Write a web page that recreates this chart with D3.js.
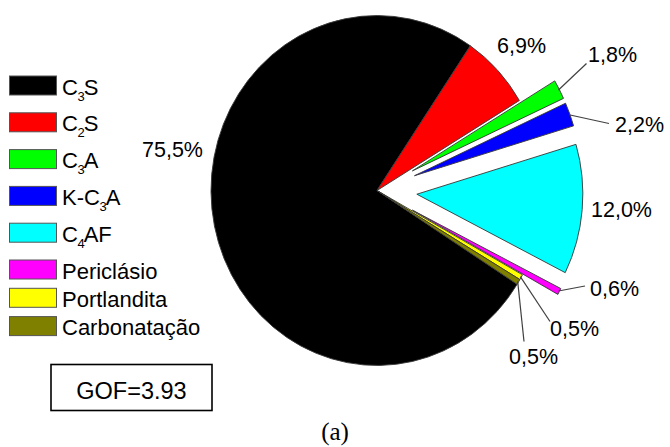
<!DOCTYPE html>
<html><head><meta charset="utf-8">
<script src="https://cdn.jsdelivr.net/npm/d3@7"></script>
<style>body{margin:0;background:#fff}svg{display:block}</style>
</head><body>
<svg id="c" width="670" height="447"></svg>
<script>
// data
const categories = ["C3S","C2S","C3A","K-C3A","C4AF","Periclásio","Portlandita","Carbonatação"];
const values = [75.5, 6.9, 1.8, 2.2, 12.0, 0.6, 0.5, 0.5];
const colors = ["#000000","#ff0000","#00ff00","#0000ff","#00ffff","#ff00ff","#ffff00","#808000"];
const exploded = [0,0,1,1,1,1,0,0];
const gofText = "GOF=3.93";
const caption = "(a)";

// layout
const W = 670, H = 447;
const cx = 377, cy = 190.5, R = 166, sy = 1.054, explodeDist = 40;
const startDeg = 122.4;
// label anchors (text left x, baseline y) and leader end points (null = no leader)
const labelPos = [[142,157],[497,53],[588,62],[615,132],[591,216.5],[590,296],[550,336],[509,364]];
const leaderEnd = [null,null,[586.5,63.5],[609,123.5],null,[585,286],[550,321.5],[524,341.5]];

const svg = d3.select("#c");
const pie = d3.pie().sort(null).value(d=>d)
  .startAngle(startDeg*Math.PI/180).endAngle(startDeg*Math.PI/180 + 2*Math.PI);
const arcs = pie(values);
const arc = d3.arc().innerRadius(0).outerRadius(R);

const g = svg.append("g").attr("transform",`translate(${cx},${cy}) scale(1,${sy})`);
const mid = a => (a.startAngle+a.endAngle)/2;
g.selectAll("path").data(arcs).join("path")
  .attr("d", arc)
  .attr("fill",(d,i)=>colors[i])
  .attr("stroke","#3a3a3a")
  .attr("stroke-width",0.9)
  .attr("transform",(d,i)=>{
    const e = exploded[i]*explodeDist, m = mid(d);
    return `translate(${e*Math.sin(m)},${-e*Math.cos(m)})`;
  });

// screen point for a given angle and radius
function pt(angle, r){ return [cx + r*Math.sin(angle), cy - r*Math.cos(angle)*sy]; }

const fmt = v => d3.format(".1f")(v).replace(".", ",") + "%";

// leader lines
arcs.forEach((d,i)=>{
  if(!leaderEnd[i]) return;
  const p = pt(mid(d), R + exploded[i]*explodeDist - 1);
  svg.append("line").attr("x1",p[0]).attr("y1",p[1])
    .attr("x2",leaderEnd[i][0]).attr("y2",leaderEnd[i][1])
    .attr("stroke","#404040").attr("stroke-width",1.2);
});

// labels
svg.selectAll("text.lbl").data(arcs).join("text").attr("class","lbl")
  .attr("x",(d,i)=>labelPos[i][0]).attr("y",(d,i)=>labelPos[i][1])
  .attr("font-family","'Liberation Sans', Arial, sans-serif")
  .attr("font-size",21.5).attr("fill","#000")
  .text(d=>fmt(d.data));

// legend
const lg = svg.append("g");
let y = 76;
categories.forEach((name,i)=>{
  const hasSub = /\d/.test(name);
  lg.append("rect").attr("x",9.5).attr("y",y).attr("width",47).attr("height",19)
    .attr("fill",colors[i]).attr("stroke","#555").attr("stroke-width",1);
  const t = lg.append("text").attr("x",62).attr("y",y+18.5)
    .attr("font-family","'Liberation Sans', Arial, sans-serif")
    .attr("font-size",22).attr("fill","#000");
  const parts = name.split(/(\d)/).filter(s=>s.length);
  let sub = false;
  parts.forEach(p=>{
    if(/^\d$/.test(p)){
      t.append("tspan").attr("font-size",13).attr("dy",6).attr("dx",-0.5).text(p);
      sub = true;
    } else {
      const ts = t.append("tspan").text(p);
      if(sub){ ts.attr("dy",-6).attr("dx",-1); sub=false; }
    }
  });
  y += hasSub ? 36.8 : 28.3;
});

// GOF box
svg.append("rect").attr("x",51).attr("y",364.5).attr("width",161).attr("height",46)
  .attr("fill","#fff").attr("stroke","#000").attr("stroke-width",1.6);
svg.append("text").attr("x",131.5).attr("y",398.5).attr("text-anchor","middle")
  .attr("font-family","'Liberation Sans', Arial, sans-serif")
  .attr("font-size",23.5).attr("fill","#000").text(gofText);

// caption
svg.append("text").attr("x",335).attr("y",440).attr("text-anchor","middle")
  .attr("font-family","'Liberation Serif', 'Times New Roman', serif")
  .attr("font-size",25).attr("fill","#000").text(caption);
</script>
</body></html>
